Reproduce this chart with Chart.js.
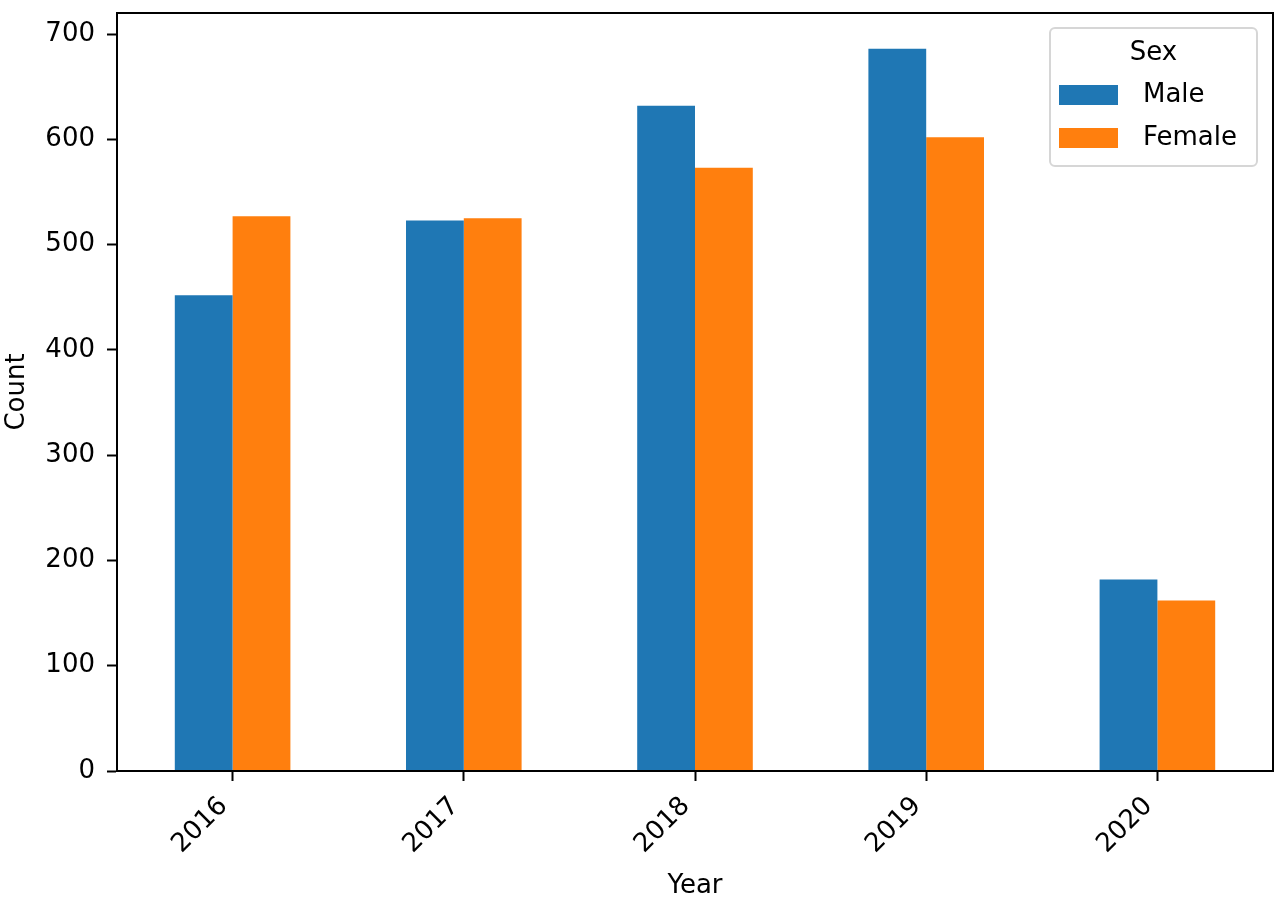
<!DOCTYPE html>
<html>
<head>
<meta charset="utf-8">
<title>Count by Year and Sex</title>
<script src="https://cdn.jsdelivr.net/npm/chart.js@4.4.1/dist/chart.umd.min.js"></script>
<style>
  html, body { margin: 0; padding: 0; background: #fff; }
  #wrap { width: 1280px; height: 902px; position: relative; }
</style>
</head>
<body>
<div id="wrap"><canvas id="myChart"></canvas></div>
<script>
/**
 * data
 */
const years = ["2016", "2017", "2018", "2019", "2020"];
const maleCounts = [452, 523, 632, 686, 182];
const femaleCounts = [527, 525, 573, 602, 162];
const yTicks = [0, 100, 200, 300, 400, 500, 600, 700];
const legendTitle = "Sex";

const blue = "#1f77b4";
const orange = "#ff7f0e";

Chart.defaults.font.family = "'DejaVu Sans', sans-serif";
Chart.defaults.font.size = 26;
Chart.defaults.color = "#000";

/**
 * black frame around the plot area (matplotlib spines)
 */
const frame = {
  id: "frame",
  afterDatasetsDraw: function (chart) {
    const ctx = chart.ctx;
    const a = chart.chartArea;
    ctx.save();
    ctx.strokeStyle = "#000";
    ctx.lineWidth = 2;
    ctx.strokeRect(a.left, a.top, a.right - a.left, a.bottom - a.top);
    ctx.restore();
  },
};

/**
 * legend box in the upper right corner, with title
 */
const legendBox = {
  id: "legendBox",
  afterDraw: function (chart) {
    const ctx = chart.ctx;
    const a = chart.chartArea;
    const w = 207;
    const h = 138;
    const x = a.right - 16 - w;
    const y = a.top + 15;
    ctx.save();
    ctx.beginPath();
    ctx.roundRect(x, y, w, h, 5);
    ctx.fillStyle = "rgba(255,255,255,0.8)";
    ctx.fill();
    ctx.strokeStyle = "#d6d6d6";
    ctx.lineWidth = 2;
    ctx.stroke();

    ctx.font = "26px 'DejaVu Sans', sans-serif";
    ctx.fillStyle = "#000";
    ctx.textBaseline = "middle";
    ctx.textAlign = "center";
    ctx.fillText(legendTitle, x + w / 2, y + 25);

    ctx.textAlign = "left";
    chart.data.datasets.forEach(function (ds, i) {
      const rowY = y + 57 + i * 43;
      ctx.fillStyle = ds.backgroundColor;
      ctx.fillRect(x + 9, rowY, 59, 20);
      ctx.fillStyle = "#000";
      ctx.fillText(ds.label, x + 93, rowY + 10);
    });
    ctx.restore();
  },
};

const ctx = document.getElementById("myChart").getContext("2d");
const myChart = new Chart(ctx, {
  type: "bar",
  data: {
    labels: years,
    datasets: [
      {
        label: "Male",
        data: maleCounts,
        backgroundColor: blue,
        borderWidth: 0,
      },
      {
        label: "Female",
        data: femaleCounts,
        backgroundColor: orange,
        borderWidth: 0,
      },
    ],
  },
  options: {
    responsive: true,
    maintainAspectRatio: false,
    animation: false,
    datasets: {
      bar: {
        categoryPercentage: 0.5,
        barPercentage: 1.0,
      },
    },
    layout: {
      padding: { top: 13, right: 7, left: 0, bottom: 0 },
    },
    plugins: {
      legend: { display: false },
      tooltip: { enabled: false },
    },
    scales: {
      x: {
        offset: true,
        grid: {
          offset: false,
          drawOnChartArea: false,
          drawTicks: true,
          tickLength: 10,
          tickWidth: 2,
          tickColor: "#000",
        },
        border: { display: true, color: "#000", width: 2 },
        ticks: {
          maxRotation: 45,
          minRotation: 45,
          padding: 10,
          labelOffset: -9,
          autoSkip: false,
        },
        title: {
          display: true,
          text: "Year",
          padding: { top: 0, bottom: 0 },
        },
        afterFit: function (scale) {
          scale.height = 131;
          scale.paddingLeft = 0;
          scale.paddingRight = 0;
        },
      },
      y: {
        min: 0,
        max: 720,
        grid: {
          drawOnChartArea: false,
          drawTicks: true,
          tickLength: 10,
          tickWidth: 2,
          tickColor: "#000",
        },
        border: { display: true, color: "#000", width: 2 },
        ticks: {
          padding: 12,
        },
        afterBuildTicks: function (scale) {
          scale.ticks = yTicks.map(function (v) {
            return { value: v };
          });
        },
        title: {
          display: true,
          text: "Count",
          padding: { top: 2, bottom: 0 },
        },
        afterFit: function (scale) {
          scale.width = 117;
          scale.paddingTop = 0;
          scale.paddingBottom = 0;
        },
      },
    },
  },
  plugins: [frame, legendBox],
});
</script>
</body>
</html>
